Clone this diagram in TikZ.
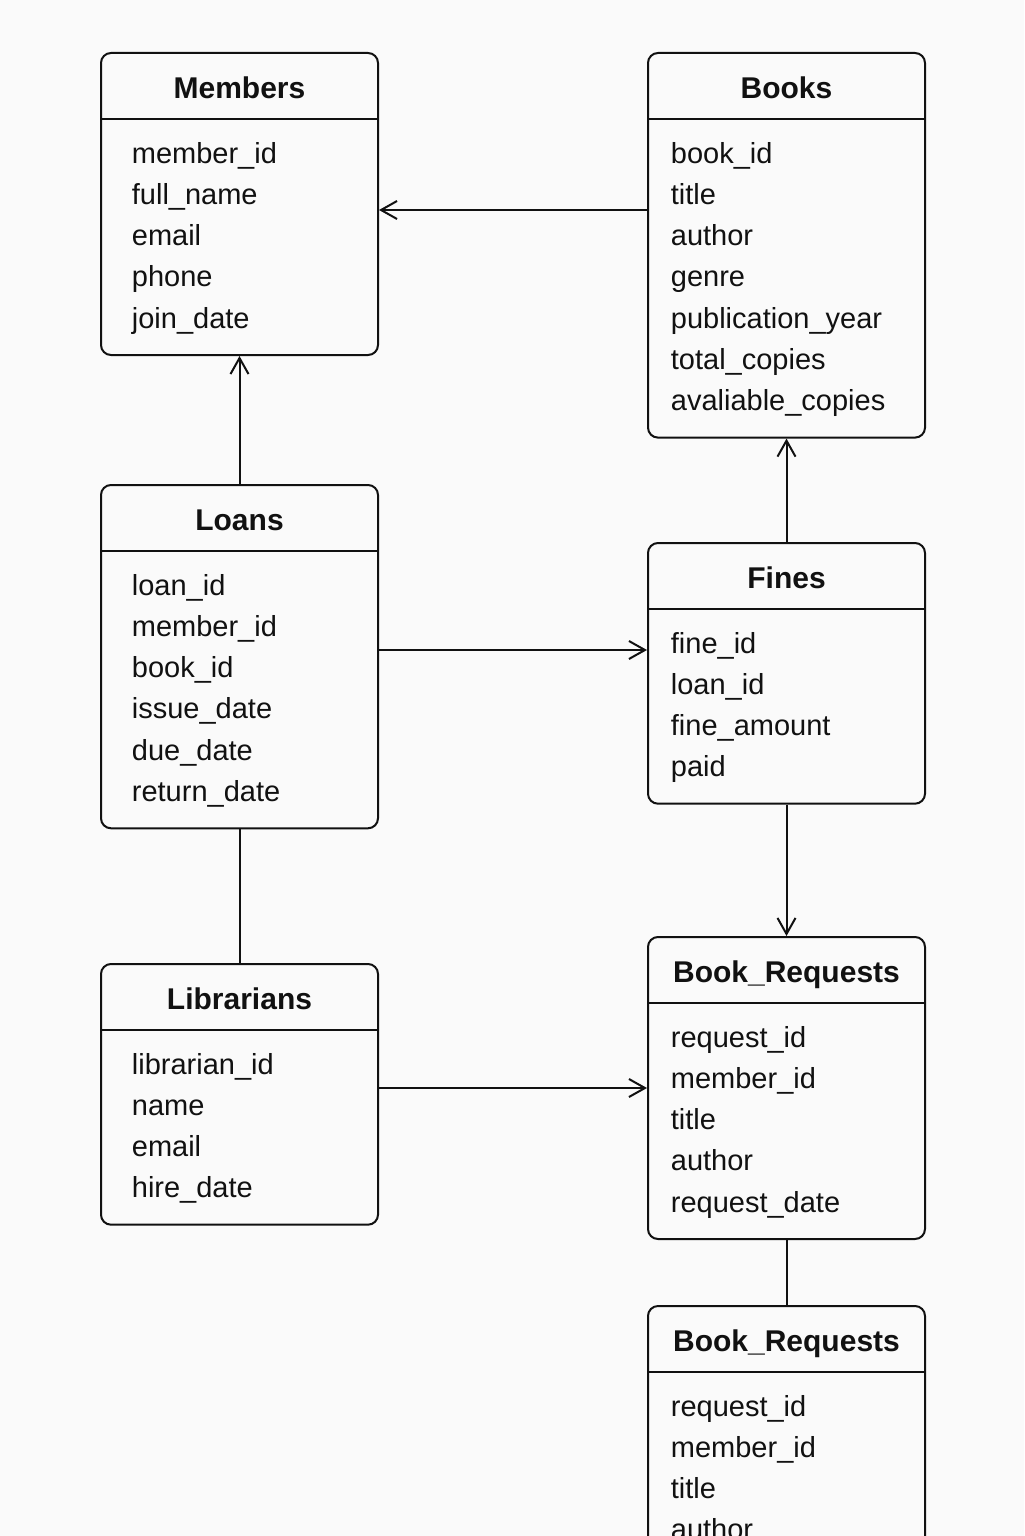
\documentclass[tikz,border=0pt]{standalone}
\usepackage{fontspec}
\setmainfont{Liberation Sans}
\usetikzlibrary{arrows.meta}
\definecolor{bg}{RGB}{250,250,250}
\definecolor{ink}{RGB}{17,17,17}
\tikzset{
 tbl/.style={draw=ink, line width=1pt, rounded corners=5pt, minimum width=138.5pt, inner sep=0pt, anchor=north west},
 ttl/.style={font=\fontsize{15}{18}\selectfont\bfseries, text=ink, inner sep=0pt, anchor=base},
 rowtxt/.style={font=\fontsize{14.5}{18}\selectfont, text=ink, inner sep=0pt, anchor=base west},
 conn/.style={draw=ink, line width=1pt, -{Straight Barb[length=8pt,width=9pt]}},
 plain/.style={draw=ink, line width=1pt},
}
\newcommand\ertable[7]{%
 \node[tbl, minimum height={(95.5+41.3*#6)*0.5pt}] (#1) at (#2,#3) {};
 \draw[plain] ([yshift=-33.5pt]#1.north west) -- ([yshift=-33.5pt]#1.north east);
 \node[ttl] (#1-title) at ([yshift=-23pt]#1.north) {#5};
 \foreach \t [count=\i] in {#7}
   \node[rowtxt] (#1-\i) at ([xshift=#4, yshift={-55.5pt-20.65pt*(\i-1)}]#1.north west) {\t};
}
\begin{document}
\begin{tikzpicture}[x=0.5pt, y=-0.5pt]
\fill[bg] (0,0) rectangle (1024,1536);
\useasboundingbox (0,0) rectangle (1024,1536);
\clip (0,0) rectangle (1024,1536);
\ertable{members}{100}{52}{15.75pt}{Members}{5}{member\_id,full\_name,email,phone,join\_date}
\ertable{books}{647}{52}{11.75pt}{Books}{7}{book\_id,title,author,genre,publication\_year,total\_copies,avaliable\_copies}
\ertable{loans}{100}{484}{15.75pt}{Loans}{6}{loan\_id,member\_id,book\_id,issue\_date,due\_date,return\_date}
\ertable{fines}{647}{542}{11.75pt}{Fines}{4}{fine\_id,loan\_id,fine\_amount,paid}
\ertable{librarians}{100}{963}{15.75pt}{Librarians}{4}{librarian\_id,name,email,hire\_date}
\ertable{requests}{647}{936}{11.75pt}{Book\_Requests}{5}{request\_id,member\_id,title,author,request\_date}
\ertable{requests2}{647}{1305}{11.75pt}{Book\_Requests}{4}{request\_id,member\_id,title,author}
\draw[conn] (books.west |- 0,210) -- (members.east |- 0,210);
\draw[conn] (loans.north) -- (members.south);
\draw[conn] (loans.east |- 0,650) -- (fines.west |- 0,650);
\draw[conn] (fines.north) -- (books.south);
\draw[conn] (fines.south) -- (requests.north);
\draw[plain] (loans.south) -- (librarians.north);
\draw[conn] (librarians.east |- 0,1088) -- (requests.west |- 0,1088);
\draw[plain] (requests.south) -- (requests2.north);
\end{tikzpicture}
\end{document}
